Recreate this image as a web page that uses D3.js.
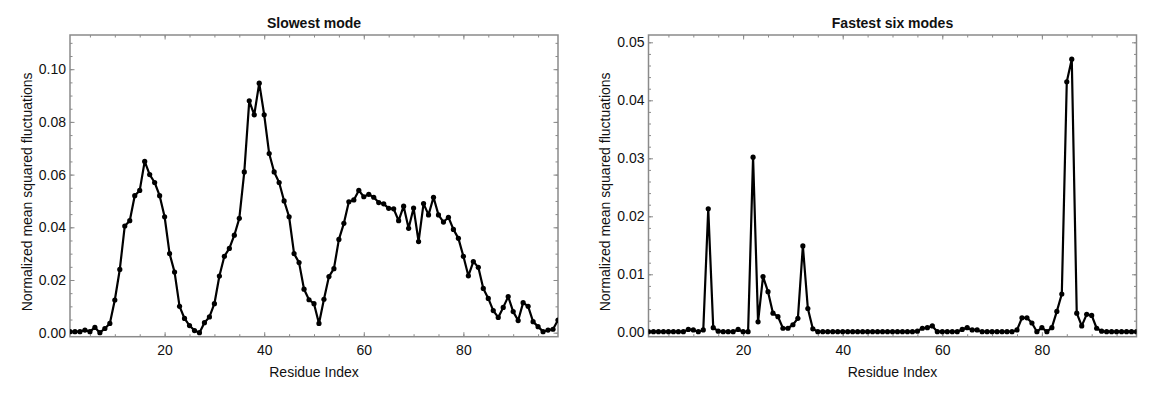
<!DOCTYPE html>
<html>
<head>
<meta charset="utf-8">
<script src="https://cdn.jsdelivr.net/npm/d3@7"></script>
<style>
  body { margin: 0; background: #fff; }
  svg text { font-family: "Liberation Sans", Arial, Helvetica, sans-serif; fill: #111; }
</style>
</head>
<body>
<svg width="1156" height="394"></svg>
<script>
var residues = d3.range(1, 100);

var slowestMode = [
  0.0004, 0.0004, 0.0004, 0.0010, 0.0004, 0.0020, 0.0000, 0.0016, 0.0035, 0.0124,
  0.0240, 0.0405, 0.0425, 0.0520, 0.0540, 0.0650, 0.0600, 0.0570, 0.0520, 0.0440,
  0.0300, 0.0230, 0.0100, 0.0054, 0.0027, 0.0008, 0.0000, 0.0038, 0.0060, 0.0110,
  0.0215, 0.0290, 0.0320, 0.0370, 0.0434, 0.0610, 0.0880, 0.0827, 0.0947, 0.0827,
  0.0680, 0.0610, 0.0570, 0.0500, 0.0440, 0.0300, 0.0266, 0.0165, 0.0125, 0.0110,
  0.0035, 0.0127, 0.0213, 0.0243, 0.0354, 0.0415, 0.0497, 0.0504, 0.0540, 0.0516,
  0.0525, 0.0514, 0.0494, 0.0489, 0.0472, 0.0470, 0.0425, 0.0480, 0.0396, 0.0473,
  0.0346, 0.0490, 0.0447, 0.0514, 0.0447, 0.0420, 0.0438, 0.0392, 0.0358, 0.0290,
  0.0216, 0.0270, 0.0248, 0.0168, 0.0130, 0.0084, 0.0058, 0.0096, 0.0137, 0.0080,
  0.0046, 0.0114, 0.0100, 0.0042, 0.0023, 0.0004, 0.0010, 0.0013, 0.0048
];

var fastestSixModes = [
  0.0001, 0.0001, 0.0001, 0.0001, 0.0001, 0.0001, 0.0001, 0.0001, 0.0005, 0.0004,
  0.0001, 0.0004, 0.0213, 0.0008, 0.0002, 0.0001, 0.0001, 0.0001, 0.0005, 0.0001,
  0.0001, 0.0302, 0.0018, 0.0096, 0.0070, 0.0033, 0.0027, 0.0007, 0.0007, 0.0013,
  0.0024, 0.0149, 0.0041, 0.0006, 0.0001, 0.0001, 0.0001, 0.0001, 0.0001, 0.0001,
  0.0001, 0.0001, 0.0001, 0.0001, 0.0001, 0.0001, 0.0001, 0.0001, 0.0001, 0.0001,
  0.0001, 0.0001, 0.0001, 0.0001, 0.0002, 0.0007, 0.0008, 0.0011, 0.0001, 0.0001,
  0.0001, 0.0001, 0.0001, 0.0005, 0.0008, 0.0004, 0.0004, 0.0001, 0.0001, 0.0001,
  0.0001, 0.0001, 0.0001, 0.0001, 0.0004, 0.0025, 0.0025, 0.0016, 0.0001, 0.0008,
  0.0001, 0.0008, 0.0036, 0.0066, 0.0432, 0.0471, 0.0033, 0.0011, 0.0031, 0.0029,
  0.0007, 0.0002, 0.0001, 0.0001, 0.0001, 0.0001, 0.0001, 0.0001, 0.0001
];

var xMajorTicks = [20, 40, 60, 80];
var xMinorTicks = d3.range(5, 100, 5);
var slowYTicks = [0, 0.02, 0.04, 0.06, 0.08, 0.10];
var fastYTicks = [0, 0.01, 0.02, 0.03, 0.04, 0.05];

var svg = d3.select("svg");

var panels = [
  {title: "Slowest mode", values: slowestMode, left: 70, right: 558,
   yDomain: [-0.00152, 0.11298], yMajor: slowYTicks, yMinorStep: 0.005},
  {title: "Fastest six modes", values: fastestSixModes, left: 648.5, right: 1136.5,
   yDomain: [-0.00076, 0.05126], yMajor: fastYTicks, yMinorStep: 0.002}
];

var plotTop = 35, plotBottom = 336.7;
var frameColor = "#8a8a8a";

panels.forEach(function(p) {
  var x = d3.scaleLinear().domain([1, 99]).range([p.left, p.right]);
  var y = d3.scaleLinear().domain(p.yDomain).range([plotBottom, plotTop]);
  var yMinor = d3.range(0, p.yDomain[1], p.yMinorStep);

  var g = svg.append("g");

  // tick marks without labels, pointing inward on all four sides
  function bareTicks(axisFn, scale, vals, translate, len) {
    g.append("g")
        .attr("transform", translate)
        .call(axisFn(scale).tickValues(vals).tickSize(-len).tickFormat(""))
        .call(function(s) { s.select(".domain").remove(); })
        .selectAll("line").attr("stroke", frameColor);
  }
  bareTicks(d3.axisBottom, x, xMinorTicks, "translate(0," + plotBottom + ")", 2.5);
  bareTicks(d3.axisTop, x, xMinorTicks, "translate(0," + plotTop + ")", 2.5);
  bareTicks(d3.axisLeft, y, yMinor, "translate(" + p.left + ",0)", 2.5);
  bareTicks(d3.axisRight, y, yMinor, "translate(" + p.right + ",0)", 2.5);
  bareTicks(d3.axisTop, x, xMajorTicks, "translate(0," + plotTop + ")", 4.5);
  bareTicks(d3.axisRight, y, p.yMajor, "translate(" + p.right + ",0)", 4.5);

  // labelled axes
  g.append("g")
      .attr("transform", "translate(0," + plotBottom + ")")
      .call(d3.axisBottom(x).tickValues(xMajorTicks).tickSize(-4.5).tickPadding(8)
        .tickFormat(d3.format("d")))
      .call(function(s) {
        s.select(".domain").remove();
        s.selectAll("line").attr("stroke", frameColor);
        s.selectAll("text").style("font-size", "14px").attr("fill", "#111");
      });

  g.append("g")
      .attr("transform", "translate(" + p.left + ",0)")
      .call(d3.axisLeft(y).tickValues(p.yMajor).tickSize(-4.5).tickPadding(4)
        .tickFormat(d3.format(".2f")))
      .call(function(s) {
        s.select(".domain").remove();
        s.selectAll("line").attr("stroke", frameColor);
        s.selectAll("text").style("font-size", "14px").attr("fill", "#111");
      });

  // frame
  g.append("rect")
      .attr("x", p.left).attr("y", plotTop)
      .attr("width", p.right - p.left).attr("height", plotBottom - plotTop)
      .attr("fill", "none")
      .attr("stroke", frameColor)
      .attr("stroke-width", 1.5);

  // clip to plot area
  var clipId = "clip" + Math.round(p.left);
  g.append("clipPath").attr("id", clipId)
    .append("rect")
      .attr("x", p.left).attr("y", plotTop)
      .attr("width", p.right - p.left).attr("height", plotBottom - plotTop);

  var plot = g.append("g").attr("clip-path", "url(#" + clipId + ")");

  var line = d3.line()
      .x(function(d, i) { return x(residues[i]); })
      .y(function(d) { return y(d); });

  plot.append("path")
      .datum(p.values)
      .attr("fill", "none")
      .attr("stroke", "#000")
      .attr("stroke-width", 2.2)
      .attr("stroke-linejoin", "round")
      .attr("d", line);

  plot.selectAll("circle")
      .data(p.values)
    .enter().append("circle")
      .attr("cx", function(d, i) { return x(residues[i]); })
      .attr("cy", function(d) { return y(d); })
      .attr("r", 2.6)
      .attr("fill", "#000");

  // titles and labels
  var cx = (p.left + p.right) / 2;
  g.append("text")
      .attr("x", cx).attr("y", 28)
      .attr("text-anchor", "middle")
      .style("font-size", "14px")
      .style("font-weight", "bold")
      .text(p.title);

  g.append("text")
      .attr("x", cx).attr("y", 377)
      .attr("text-anchor", "middle")
      .style("font-size", "14px")
      .text("Residue Index");

  g.append("text")
      .attr("transform", "translate(" + (p.left - 38.5) + "," + ((plotTop + plotBottom) / 2 + 6) + ") rotate(-90)")
      .attr("text-anchor", "middle")
      .style("font-size", "14px")
      .text("Normalized mean squared fluctuations");
});
</script>
</body>
</html>
